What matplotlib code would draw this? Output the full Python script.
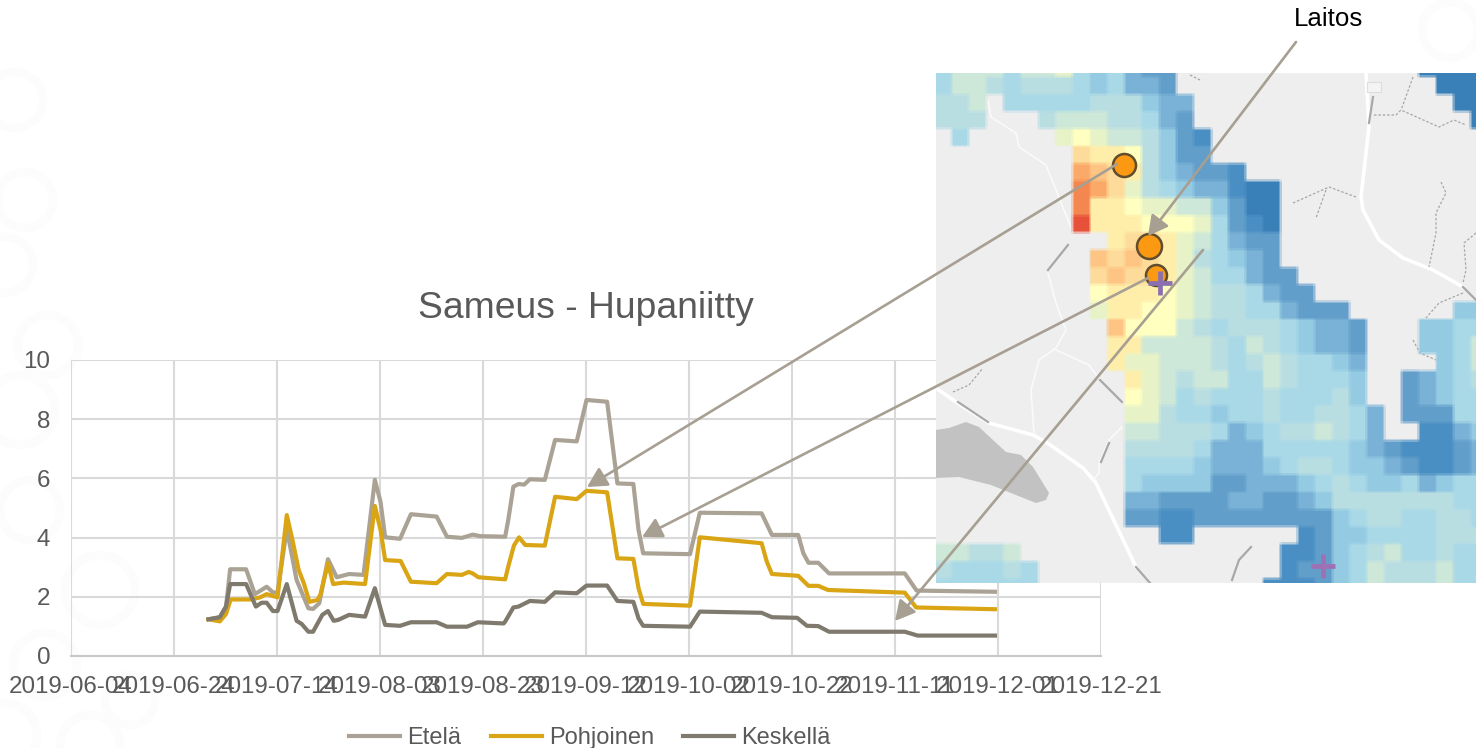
import datetime as dt
import numpy as np
import matplotlib
matplotlib.use("Agg")
import matplotlib.pyplot as plt
import matplotlib.dates as mdates
from matplotlib.colors import ListedColormap, Normalize
from matplotlib.patches import Circle, Polygon, Rectangle

plt.rcParams['font.family'] = ['Liberation Sans', 'DejaVu Sans']

W, H = 1476, 748
START = dt.date(2019, 6, 4)
tick_dates = [dt.date(2019, 6, 4), dt.date(2019, 6, 24), dt.date(2019, 7, 14), dt.date(2019, 8, 3),
              dt.date(2019, 8, 23), dt.date(2019, 9, 12), dt.date(2019, 10, 2), dt.date(2019, 10, 22),
              dt.date(2019, 11, 11), dt.date(2019, 12, 1), dt.date(2019, 12, 21)]
y_ticks = [0, 2, 4, 6, 8, 10]

# days after 2019-06-04 and turbidity values
etela_days = [26.7, 28.9, 30.1, 30.9, 34, 35.7, 38, 39.2, 40.1, 41.9, 43.8, 46.1, 47, 48.2, 49.9, 51.6, 54, 56.8,
              59, 60.1, 61, 63.9, 66, 71, 73, 75.9, 78, 79.4, 84.3, 84.9, 85.9, 86.9, 88, 89.1, 92, 94, 98.2,
              100.1, 104.1, 106.1, 109.2, 110.2, 111.1, 120.2, 122.1, 134.1, 136.1, 141.2, 142.2, 143.2, 145.1,
              147.2, 161.9, 164.2, 179.4]
etela_vals = [1.24, 1.31, 1.67, 2.93, 2.93, 2.09, 2.34, 2.15, 2.14, 4.3, 2.57, 1.61, 1.59, 1.78, 3.27, 2.66, 2.77, 2.74,
              5.95, 5.21, 4.01, 3.96, 4.79, 4.71, 4.03, 3.99, 4.1, 4.05, 4.03, 4.59, 5.72, 5.81, 5.79, 5.97, 5.95, 7.30, 7.25,
              8.65, 8.59, 5.83, 5.81, 4.26, 3.47, 3.44, 4.84, 4.82, 4.09, 4.09, 3.47, 3.15, 3.15,
              2.79, 2.79, 2.21, 2.17]
pohjoinen_days = [26.7, 28.9, 30.1, 31, 35, 36.7, 38, 40.1, 41.9, 43, 44.2, 45.2, 46.3, 47.8, 48.4, 49.9, 50.9, 52.9,
                  57.1, 59, 60.1, 61, 64, 66, 71, 73, 75.9, 77.2, 78, 79.1, 84.3, 84.9, 86, 87, 88.2, 92, 94, 98.2,
                  100.1, 104.1, 106.1, 109.2, 110.2, 111.1, 120.2, 122.1, 134.1, 135.1, 136.1, 141.2, 143.2, 145.1,
                  147, 161.9, 164.1, 179.4]
pohjoinen_vals = [1.24, 1.17, 1.42, 1.91, 1.91, 1.98, 2.09, 1.98, 4.76, 3.92, 2.91, 2.46, 1.83, 1.89, 2.06, 3.14, 2.43, 2.48,
                  2.43, 5.07, 4.26, 3.24, 3.21, 2.51, 2.46, 2.77, 2.74, 2.84, 2.79, 2.66, 2.59, 3.02, 3.73, 4.01, 3.75, 3.73, 5.38, 5.30,
                  5.58, 5.53, 3.30, 3.28, 2.29, 1.76, 1.70, 4.01, 3.81, 3.19, 2.77, 2.71, 2.37, 2.37,
                  2.23, 2.14, 1.64, 1.58]
keskella_days = [26.7, 28.9, 30.1, 30.9, 34, 35.9, 37, 38, 39.2, 40.1, 41.9, 43.8, 44.8, 46.1, 47, 48.8, 49.9, 51, 51.9, 54,
                 57.1, 59, 61, 63.9, 66, 71, 73, 76.9, 79, 84, 84.3, 85.9, 86.9, 89.1, 92, 94, 98.2,
                 100.1, 104.1, 106.1, 109.2, 110.2, 111.1, 120.2, 122.1, 134.1, 136.1, 141, 142.9, 145.1,
                 147.2, 161.9, 164.4, 179.4]
keskella_vals = [1.24, 1.31, 1.67, 2.43, 2.43, 1.67, 1.80, 1.80, 1.52, 1.52, 2.43, 1.19, 1.08, 0.82, 0.82, 1.39, 1.52, 1.19, 1.22, 1.39,
                 1.33, 2.29, 1.05, 1.02, 1.14, 1.14, 0.99, 0.99, 1.14, 1.10, 1.16, 1.64, 1.67, 1.86, 1.83, 2.15, 2.12,
                 2.38, 2.38, 1.86, 1.83, 1.27, 1.02, 0.99, 1.50, 1.46, 1.31, 1.29, 1.02, 1.01,
                 0.82, 0.82, 0.69, 0.69]

series_names = ['Etelä', 'Pohjoinen', 'Keskellä']
series_colors = ['#aaa395', '#d9a514', '#7f7a6d']

# raster levels: '.' = no data, 0-9 and a-f run from dark blue to red
raster_rows = [
    "57775778" "545322" + "." * 14 + "0000",
    "57765666545332" + "." * 15 + "000",
    "667.55555666433" + "." * 15 + "00",
    "666...677766532" + "." * 16 + "0",
    ".5.....898776421",
    "........baa96422",
    "........dcba643221",
    "........edb865433100",
    "........eaa988774200",
    "........faaa99985210",
    "..........abba875322",
    ".........cbcba865432",
    ".........bcbba8755322",
    ".........9aaa987665322",
    ".........8aa998766553222" + "......" + "44",
    ".........." + "c99976" + "566654332" + "..." + "4455",
    ".........." + "aa7777" + "657654332" + "..." + "4457",
    ".........." + "a88777" + "656765543" + "...." + "457",
    "..........." + "a8767" + "755765554" + ".." + "23456",
    "..........." + "98756" + "555655564" + ".." + "23455",
    "..........." + "88655" + "455655665" + "3.22255",
    "..........." + "77666" + "534566765" + "3..1134",
    "..........." + "66665" + "333555554" + "3211123",
    "..........." + "55554" + "333456654" + "4321123",
    "..........." + "54444" + "223334565" + "4453455",
    "..........." + "33222" + "233223466" + "6666655",
    "..........." + "22112" + "222222245" + "6655665",
    "............." + "11" + "......" + "1244" + "5555666",
    "77667" + "." * 15 + "11245" + "6755655",
    "655565" + "." * 14 + "12245" + "7666755",
    "555555" + "." * 13 + "111245" + "7666755",
]
raster_colors = ['#3a80ba', '#4a8fc3', '#619ecb', '#7ab2d6', '#94cbe3', '#a9d8e8', '#badfe3', '#cde8d8',
                 '#e8f4c8', '#ffffbf', '#feeeaa', '#fddc9a', '#fdc583', '#fba968', '#f5874f', '#e8503a']

# map decoration, in figure pixels
lake = [(936, 430), (949, 428), (966, 422), (979, 427), (993, 440), (1006, 452), (1021, 455), (1033, 467),
        (1049, 493), (1046, 500), (1036, 503), (1016, 495), (991, 485), (959, 477), (936, 478)]
main_roads = [
    [(1366, 73), (1369, 127), (1361, 197), (1363, 210), (1379, 240), (1403, 258), (1433, 270), (1463, 287)],
    [(936, 388), (956, 402), (989, 423), (1033, 435), (1046, 442), (1083, 468), (1096, 483), (1136, 567)],
]
minor_roads = [
    [(988, 100), (991, 117), (1016, 133), (1019, 147), (1046, 165), (1072, 230)],
    [(1048, 273), (1056, 303), (1066, 330), (1056, 348), (1039, 360), (1031, 390), (1034, 433)],
    [(1056, 350), (1089, 365), (1100, 380)],
    [(1122, 427), (1109, 440), (1099, 463), (1099, 473), (1093, 480)],
]
dark_roads = [
    [(1373, 97), (1369, 123)], [(1463, 287), (1476, 300)], [(958, 402), (988, 422)],
    [(1100, 380), (1122, 402)], [(1136, 567), (1150, 583)], [(1068, 245), (1048, 270)],
    [(1109, 443), (1101, 462)], [(1251, 547), (1239, 560), (1232, 580)],
]
dashed_roads = [
    [(1374, 115), (1396, 115), (1401, 110), (1439, 127), (1454, 120), (1466, 125)],
    [(1413, 77), (1404, 102), (1401, 110)],
    [(1293, 203), (1329, 187), (1356, 197)], [(1326, 190), (1316, 218)],
    [(1441, 182), (1446, 193), (1436, 213), (1436, 233), (1429, 267)],
    [(1476, 233), (1464, 243), (1466, 270), (1463, 283)],
    [(1463, 293), (1439, 303), (1426, 318)],
    [(953, 392), (969, 385), (983, 368)],
    [(1413, 340), (1420, 353), (1436, 360)],
    [(1190, 75), (1200, 80)],
]
plant_sites = [(1124, 165, 11.5), (1149, 246, 12.5), (1156, 275, 10.5)]
plus_sites = [(1160, 283, '#8a70b0'), (1323, 566, '#a070b4')]
arrow_links = [((1296, 42), (1148, 236)), ((1117, 164), (587, 487)),
               ((1148, 278), (642, 537)), ((1203, 250), (895, 621))]
watermark_rings = [(15, 100, 28), (25, 200, 28), (5, 265, 28), (48, 345, 30), (45, 665, 32), (5, 735, 32),
                   (90, 745, 30), (100, 590, 35), (20, 410, 35), (30, 510, 30), (1450, 30, 28), (130, 700, 25)]

fig = plt.figure(figsize=(W / 100, H / 100), dpi=100, facecolor='white')


def px_axes(x0, y0, x1, y1, **kw):
    return fig.add_axes([x0 / W, 1 - y1 / H, (x1 - x0) / W, (y1 - y0) / H], **kw)


# background watermark
bg = px_axes(0, 0, W, H, zorder=0)
bg.set_xlim(0, W)
bg.set_ylim(H, 0)
bg.axis('off')
for x, y, r in watermark_rings:
    bg.add_patch(Circle((x, y), r, fill=False, ec='#fcfcfc', lw=6))

# line chart
ax = px_axes(71, 360, 1101, 656, zorder=1)
ax.patch.set_alpha(0)


def to_dates(days):
    return [mdates.date2num(START) + d for d in days]


for days, vals, name, col in zip([etela_days, pohjoinen_days, keskella_days],
                                 [etela_vals, pohjoinen_vals, keskella_vals],
                                 series_names, series_colors):
    ax.plot(to_dates(days), vals, color=col, lw=3.0, label=name, solid_joinstyle='round', zorder=3)
ax.set_xlim(mdates.date2num(tick_dates[0]), mdates.date2num(tick_dates[-1]))
ax.set_ylim(0, 10)
ax.set_xticks([mdates.date2num(d) for d in tick_dates])
ax.set_xticklabels([d.isoformat() for d in tick_dates])
ax.set_yticks(y_ticks)
ax.grid(True, color='#d9d9d9', lw=1.5, zorder=1)
ax.tick_params(axis='x', length=0, pad=14.6, labelsize=17.4, labelcolor='#595959')
ax.tick_params(axis='y', length=0, pad=15, labelsize=17.4, labelcolor='#595959')
for s in ['top', 'right', 'left']:
    ax.spines[s].set_visible(False)
ax.spines['bottom'].set_color('#c8c8c8')
ax.spines['bottom'].set_linewidth(1.5)

fig.text(586 / W, 1 - 309 / H, 'Sameus - Hupaniitty', ha='center', va='center', fontsize=26.8, color='#595959')
fig.legend(*ax.get_legend_handles_labels(), loc='center', bbox_to_anchor=(590 / W, 1 - 738 / H), ncol=3, frameon=False,
           fontsize=17, labelcolor='#595959', handlelength=2.15, handletextpad=0.3, columnspacing=1.25,
           borderpad=0, borderaxespad=0)

# map
mp = px_axes(936, 73, W, 583, zorder=2)
mp.add_patch(Polygon([(936, 73), (W, 73), (W, 583), (936, 583)], fc='#eeeeee', ec='none', zorder=0))
mp.add_patch(Polygon(lake, fc='#c2c2c2', ec='none', zorder=1))
mp.add_patch(Rectangle((1367, 82), 14, 10, fc='#f4f4f4', ec='#dddddd', lw=0.8, zorder=1.7))
for road in main_roads:
    xs, ys = zip(*road)
    mp.plot(xs, ys, color='white', lw=2.6, zorder=1.5, solid_capstyle='round')
for road in minor_roads:
    xs, ys = zip(*road)
    mp.plot(xs, ys, color='#fbfbfb', lw=1.1, zorder=1.5)
for road in dark_roads:
    xs, ys = zip(*road)
    mp.plot(xs, ys, color='#a8a8a8', lw=1.6, zorder=1.6)
for road in dashed_roads:
    xs, ys = zip(*road)
    mp.plot(xs, ys, color='#a6a6a6', lw=0.9, ls=(0, (2, 1.5)), zorder=1.6)

levels = np.array([[int(ch, 16) if ch != '.' else np.nan for ch in row.ljust(32, '.')] for row in raster_rows])
cmap = ListedColormap(raster_colors)
cmap.set_bad((0.933, 0.933, 0.933, 0))
rgba = np.array(cmap(Normalize(-0.5, 15.5)(np.ma.masked_invalid(levels))), dtype=float)
rgba[..., :3] *= rgba[..., 3:4]
fine = np.repeat(np.repeat(rgba, 12, axis=0), 12, axis=1)
kernel = np.ones(3) / 3
for axis in (0, 1):
    fine = np.apply_along_axis(lambda v: np.convolve(v, kernel, mode='same'), axis, fine)
alpha = fine[..., 3:4]
safe = np.where(alpha > 1e-6, alpha, 1.0)
fine[..., :3] = np.where(alpha > 1e-6, np.clip(fine[..., :3] / safe, 0, 1), 0.933)
mp.imshow(fine, interpolation='nearest', aspect='auto',
          extent=(934.3, 934.3 + 17.3 * 32, 59.5 + 17.3 * 31, 59.5), zorder=2)
mp.set_xlim(936, W)
mp.set_ylim(583, 73)
mp.axis('off')

for x, y, r in plant_sites:
    mp.plot([x], [y], 'o', ms=r * 1.44, mfc='#fb9a12', mec='#5f4d2e', mew=1.8, zorder=4)
for x, y, col in plus_sites:
    mp.plot([x], [y], '+', ms=17, mew=3.4, color=col, zorder=5)

# arrows over everything
ov = px_axes(0, 0, W, H, zorder=3)
ov.set_xlim(0, W)
ov.set_ylim(H, 0)
ov.axis('off')
for start, tip in arrow_links:
    ov.annotate('', xy=tip, xytext=start,
                arrowprops=dict(arrowstyle='-|>,head_length=0.75,head_width=0.4', color='#a69f92', lw=1.9,
                                mutation_scale=16, shrinkA=0, shrinkB=0))
ov.text(1329, 19, 'Laitos', ha='center', va='center', fontsize=18.6, color='black')

fig.savefig('out.png', dpi=100, facecolor='white')
